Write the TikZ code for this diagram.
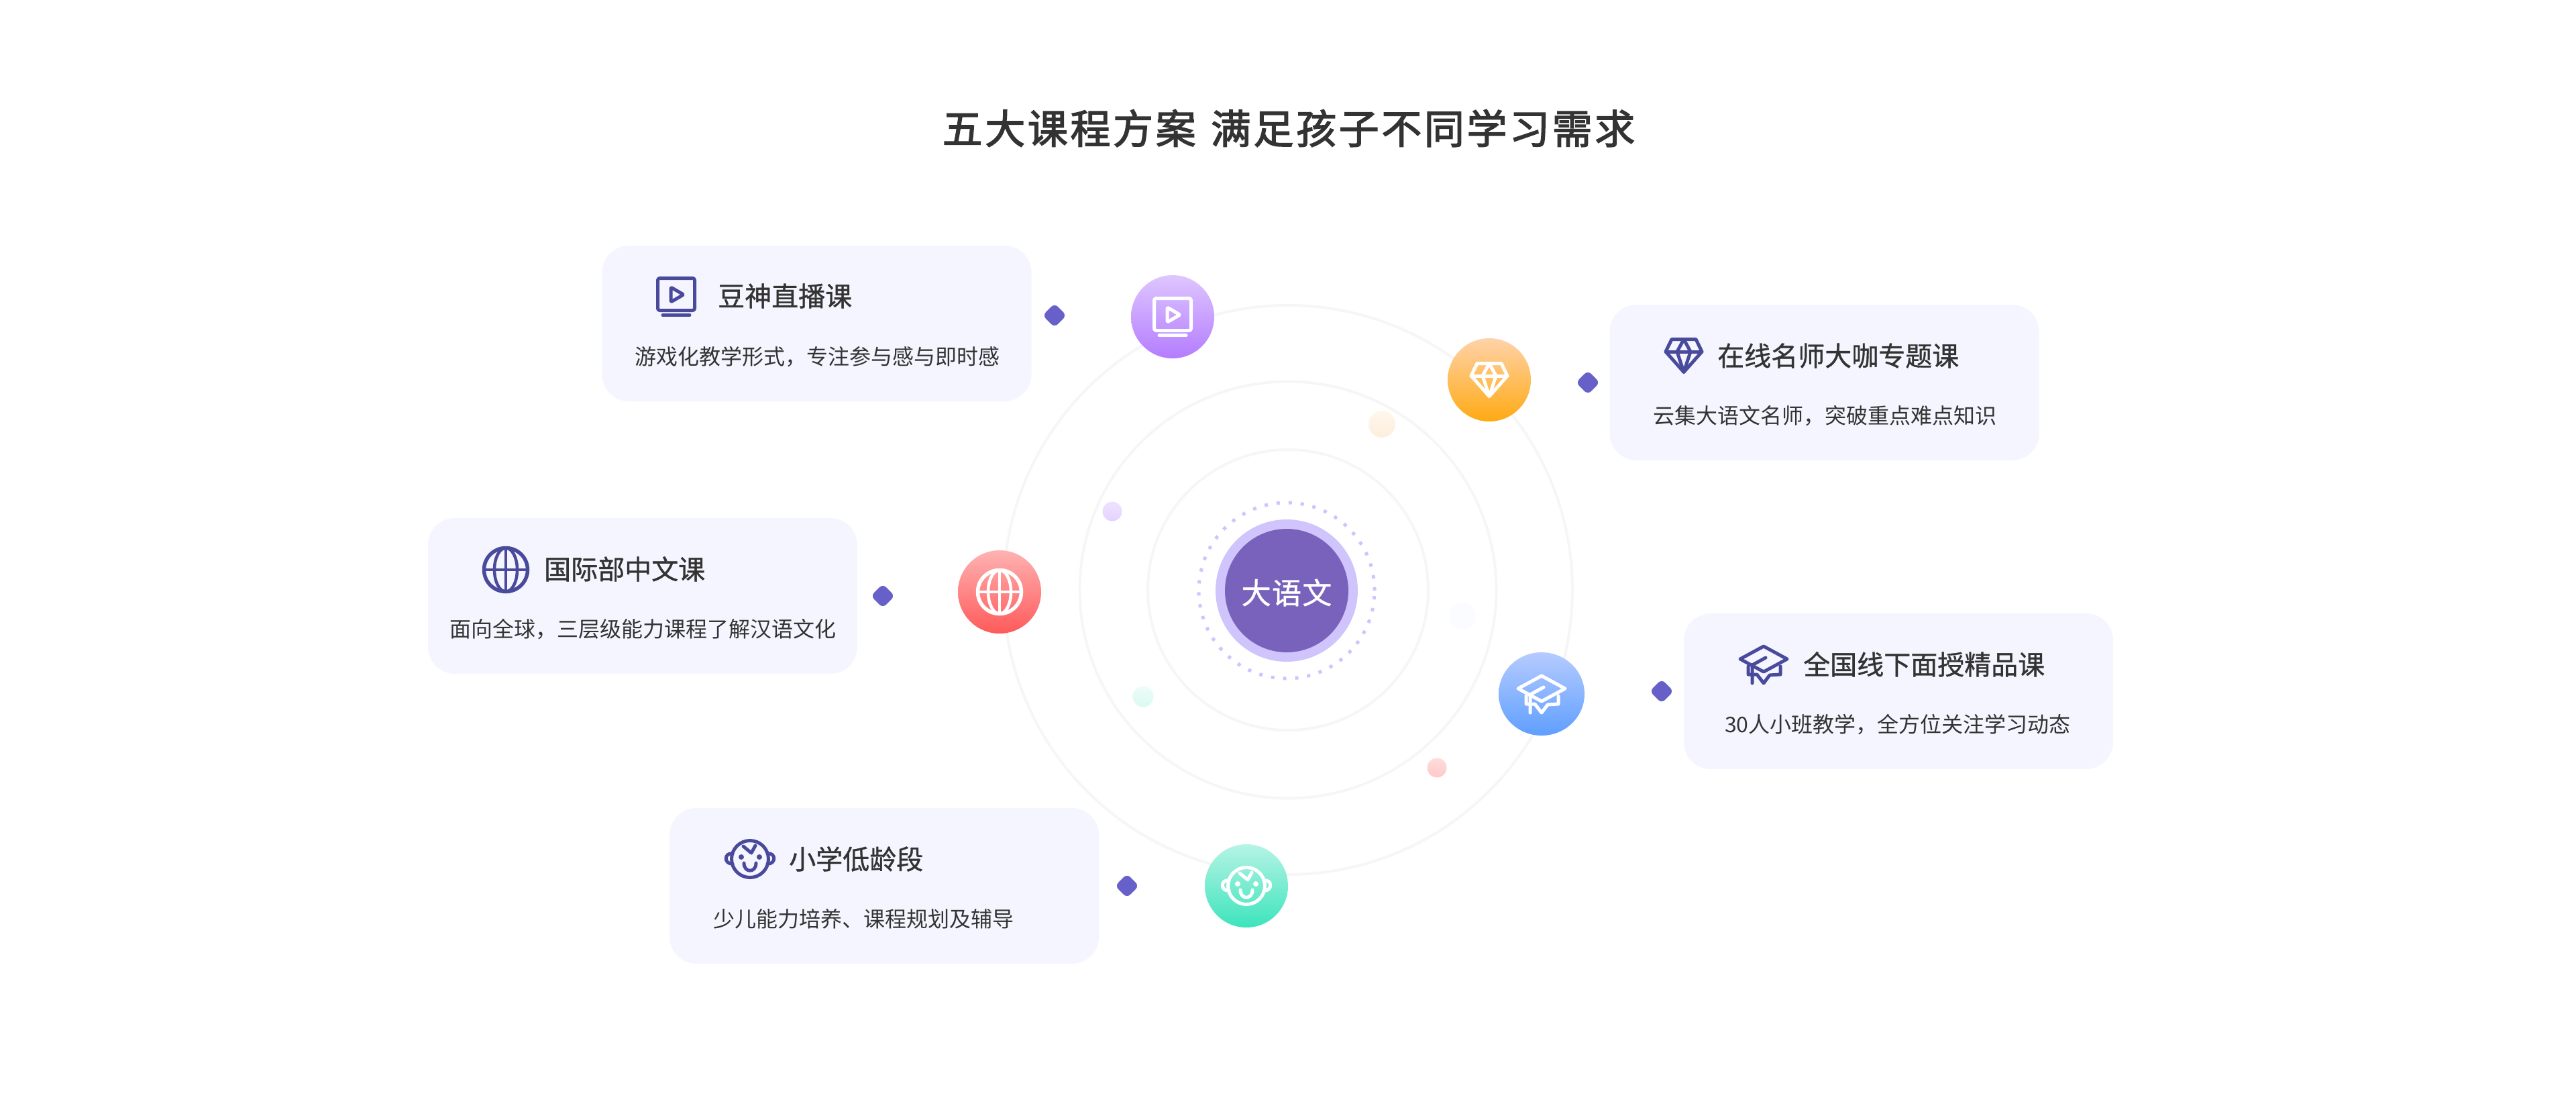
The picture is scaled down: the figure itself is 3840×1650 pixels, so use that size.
\documentclass[tikz,border=0pt]{standalone}
\usepackage{fontspec}
\usepackage{tikz}
\usetikzlibrary{shapes}
\usetikzlibrary{shapes.geometric}
\usetikzlibrary{positioning}

\newfontfamily\cjk{Noto Sans CJK SC}
\newfontfamily\cjkmed[FakeBold=0.9]{Noto Sans CJK SC}
\newfontfamily\cjktitle[LetterSpace=6,FakeBold=2.4,WordSpace=1.3]{Noto Sans CJK SC}
\newfontfamily\cjkcenter[LetterSpace=3,FakeBold=0.9]{Noto Sans CJK SC}

\definecolor{cardBg}{HTML}{F5F5FF}
\definecolor{dotCol}{HTML}{6660C8}
\definecolor{iconCol}{HTML}{4A4A9C}
\definecolor{textCol}{HTML}{333333}
\definecolor{ringCol}{HTML}{F6F6F6}
\definecolor{coreCol}{HTML}{7962BC}
\definecolor{haloCol}{HTML}{D0C4FC}
\definecolor{purpleA}{HTML}{DEC6FF}
\definecolor{purpleB}{HTML}{B47CFF}
\definecolor{orangeA}{HTML}{FFD2A8}
\definecolor{orangeB}{HTML}{FFAA14}
\definecolor{redA}{HTML}{FFB2B2}
\definecolor{redB}{HTML}{FF5A5A}
\definecolor{blueA}{HTML}{B6CBFF}
\definecolor{blueB}{HTML}{5F9FFF}
\definecolor{greenA}{HTML}{B6F4E5}
\definecolor{greenB}{HTML}{3CE4BC}
\definecolor{peachA}{HTML}{FFF7EC}
\definecolor{peachB}{HTML}{FDEEDC}
\definecolor{paleBlue}{HTML}{FAFCFF}

\begin{document}
\begin{tikzpicture}[x=1pt,y=-1pt]
			\tikzset{ring/.style = {shape=circle,draw=ringCol,line width=4pt,outer sep=0pt,inner sep=0pt}}
			\tikzset{orb/.style = {shape=ellipse,minimum width=124pt,minimum height=124pt,inner sep=0pt,outer sep=0pt}}
			\tikzset{speck/.style = {shape=circle,inner sep=0pt,outer sep=0pt}}
			\tikzset{card/.style = {shape=rectangle,fill=cardBg,minimum width=640pt,
					minimum height=232pt,rounded corners=40pt,inner sep=0pt}}
			\tikzset{pin/.style = {shape=diamond,fill=dotCol,minimum size=36pt,
					rounded corners=7pt,inner sep=0pt}}
			\tikzset{head/.style = {anchor=west,inner sep=0pt,text=textCol,text height=35.2pt,
					text depth=4.8pt,font=\cjkmed\fontsize{40}{44}\selectfont}}
			\tikzset{sub/.style = {anchor=west,inner sep=0pt,text=textCol,text height=28.2pt,
					text depth=3.8pt,font=\cjk\fontsize{32}{36}\selectfont}}
			\tikzset{glyph/.style = {line width=5pt,line join=round,line cap=round}}
			\tikzset{pics/iconTv/.style = {code={
					\draw[glyph,rounded corners=3pt] (-27.5,-27.5) rectangle (27.5,20.5);
					\draw[glyph] (-20,27.5) -- (20,27.5);
					\draw[glyph,rounded corners=2pt] (-8,-14) -- (11,-3) -- (-8,8) -- cycle;
			}}}
			\tikzset{pics/iconGem/.style = {code={
					\draw[glyph] (-18,-24.5) -- (18,-24.5) -- (27,-6) -- (0,24.5) -- (-27,-6) -- cycle;
					\draw[glyph] (-27,-6) -- (27,-6);
					\draw[glyph] (-10,-6) -- (0,-24.5) -- (10,-6) -- (0,24.5) -- cycle;
			}}}
			\tikzset{pics/iconCap/.style = {code={
					\draw[glyph] (0,-27) -- (35,-8) -- (0,11) -- (-35,-8) -- cycle;
					\draw[glyph] (3,-10) -- (-17,1) -- (-17,28);
					\draw[glyph] (-23,3) -- (-23,15) -- (-10,15) -- (0,28) -- (9,16) -- (25,15) -- (25,3);
			}}}
			\tikzset{pics/iconGlobe/.style = {code={
					\draw[glyph,line width=5.5pt] (0,0) circle (32.5);
					\draw[glyph,line width=4.5pt] (0,0) ellipse (17 and 32.5);
					\draw[glyph,line width=4.5pt] (0,-32.5) -- (0,32.5);
					\draw[glyph,line width=4.5pt] (-32.5,0) -- (32.5,0);
			}}}
			\tikzset{pics/iconBaby/.style = {code={
					\draw[glyph] (0,0) circle (27.5);
					\draw[glyph] (-26,-8) .. controls (-39,-10) and (-39,8) .. (-26,7);
					\draw[glyph] (26,-8) .. controls (39,-10) and (39,8) .. (26,7);
					\draw[glyph] (-10,-19) -- (2,-9) -- (8,-20);
					\draw[glyph] (-9,6) .. controls (-9,21) and (9,21) .. (9,6);
					\fill (-13,-3) circle (4);
					\fill (14,-3) circle (4);
			}}}
			
			\useasboundingbox (0,0) rectangle (3840,1650);
			
			% orbits
			\node[ring,minimum size=848pt] (orbitC) at (1920,879) {};
			\node[ring,minimum size=621pt] (orbitB) at (1920,879) {};
			\node[ring,minimum size=418pt] (orbitA) at (1920,879) {};
			
			% small dots on the orbits
			\node[speck,minimum size=40pt,top color=peachA,bottom color=peachB] (speckA) at (2060,632) {};
			\node[speck,minimum size=29pt,top color=purpleA!50,bottom color=purpleA!80] (speckB) at (1658,762) {};
			\node[speck,minimum size=40pt,fill=paleBlue] (speckC) at (2180,918) {};
			\node[speck,minimum size=31pt,top color=greenA!25,bottom color=greenA!50] (speckD) at (1704,1038) {};
			\node[speck,minimum size=29pt,top color=redA!45,bottom color=redA!70] (speckE) at (2142,1144) {};
			
			% middle
			\node[speck,draw=haloCol,line width=5pt,dash pattern=on 5pt off 13pt,minimum size=262pt] (dots) at (1918,880) {};
			\node[speck,fill=haloCol,minimum size=212pt] (halo) at (1918,880) {};
			\node[speck,fill=coreCol,minimum size=184pt] (core) at (1918,880) {};
			\node[text=white,inner sep=0pt,font=\cjkcenter\fontsize{44}{48}\selectfont] (coreText) at (1918,883) {大语文};
			
			% heading
			\node[text=textCol,inner sep=0pt,font=\cjktitle\fontsize{60}{66}\selectfont] (title)
				at (1921,191) {五大课程方案 满足孩子不同学习需求};
			
			% cards
			\node[card] (cardTv) at (1217.5,482) {};
			\node[card] (cardGem) at (2719.5,570) {};
			\node[card] (cardCap) at (2830,1030) {};
			\node[card] (cardGlobe) at (958,888) {};
			\node[card] (cardBaby) at (1318,1320) {};
			
			\node[head] (headTv) at (1070,441) {豆神直播课};
			\node[sub] (subTv) at (946,531) {游戏化教学形式，专注参与感与即时感};
			\node[head] (headGem) at (2560,530) {在线名师大咖专题课};
			\node[sub] (subGem) at (2464,619) {云集大语文名师，突破重点难点知识};
			\node[head] (headCap) at (2688,990) {全国线下面授精品课};
			\node[sub] (subCap) at (2571,1079) {30人小班教学，全方位关注学习动态};
			\node[head] (headGlobe) at (811,848) {国际部中文课};
			\node[sub] (subGlobe) at (670,937) {面向全球，三层级能力课程了解汉语文化};
			\node[head] (headBaby) at (1176,1280) {小学低龄段};
			\node[sub] (subBaby) at (1063,1369) {少儿能力培养、课程规划及辅导};
			
			% pins
			\node[pin] (pinTv) at (1572,470) {};
			\node[pin] (pinGem) at (2367,570) {};
			\node[pin] (pinCap) at (2477,1030) {};
			\node[pin] (pinGlobe) at (1316,888) {};
			\node[pin] (pinBaby) at (1680,1320) {};
			
			% coloured circles
			\node[orb,top color=purpleA,bottom color=purpleB] (orbTv) at (1748,472) {};
			\node[orb,top color=orangeA,bottom color=orangeB] (orbGem) at (2220,566) {};
			\node[orb,top color=blueA,bottom color=blueB,minimum width=128pt] (orbCap) at (2298,1034) {};
			\node[orb,top color=redA,bottom color=redB] (orbGlobe) at (1490,882) {};
			\node[orb,top color=greenA,bottom color=greenB] (orbBaby) at (1858,1320) {};
			
			% icons
			\pic[color=white] at (1748,472) {iconTv};
			\pic[color=white] at (2220,566) {iconGem};
			\pic[color=white] at (2298,1034) {iconCap};
			\pic[color=white] at (1490,882) {iconGlobe};
			\pic[color=white] at (1858,1320) {iconBaby};
			\pic[color=iconCol] at (1008,442) {iconTv};
			\pic[color=iconCol] at (2510,530) {iconGem};
			\pic[color=iconCol] at (2629,990) {iconCap};
			\pic[color=iconCol] at (754,849) {iconGlobe};
			\pic[color=iconCol] at (1118,1280) {iconBaby};
			
\end{tikzpicture}
\end{document}
